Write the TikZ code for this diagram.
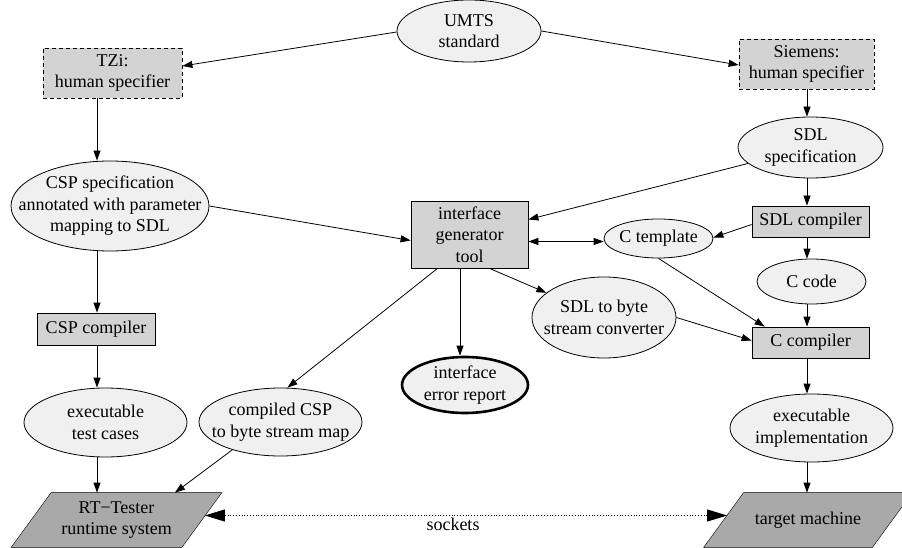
\documentclass[tikz,border=0pt]{standalone}
\usepackage{fontspec}
\setmainfont{Liberation Serif}
\usetikzlibrary{shapes.geometric,arrows.meta,calc,backgrounds}
\definecolor{ellfill}{HTML}{F0F0F0}
\definecolor{boxfill}{HTML}{D3D3D3}
\definecolor{parfill}{HTML}{A9A9A9}
\begin{document}
\begin{tikzpicture}[x=1pt,y=-1pt,
  font=\fontsize{18}{21.5}\selectfont,
  line width=0.8pt,
  >={Triangle[length=10pt,width=7pt]},
  ell/.style={ellipse, draw, fill=ellfill, inner sep=0pt},
  box/.style={rectangle, draw, fill=boxfill, inner sep=0pt, align=center},
  dbox/.style={box, dash pattern=on 4pt off 3pt},
  txt/.style={align=center, inner sep=0pt},
  parnode/.style={rectangle, inner sep=0pt, align=center, minimum height=54pt}]
\useasboundingbox (0,0) rectangle (902,548);

% nodes
\node[ell, minimum width=144pt, minimum height=62pt, label={[txt]center:UMTS\\standard}] (umts) at (469,31) {};
\node[dbox, minimum width=139pt, minimum height=50pt] (tzi) at (112.5,73) {TZi:\\human specifier};
\node[dbox, minimum width=135pt, minimum height=50pt] (sie) at (806.5,64) {Siemens:\\human specifier};
\node[ell, minimum width=145pt, minimum height=61pt, label={[txt]center:SDL\\specification}] (sdl) at (810.5,147.5) {};
\node[ell, minimum width=198pt, minimum height=90pt, label={[txt]center:CSP specification\\annotated with parameter\\mapping to SDL}] (csp) at (110,206) {};
\node[box, minimum width=117pt, minimum height=67pt] (igt) at (469.5,234.5) {interface\\generator\\tool};
\node[box, minimum width=117pt, minimum height=31pt] (sdlc) at (810.5,221.5) {SDL compiler};
\node[ell, minimum width=109pt, minimum height=39pt, label={[txt]center:C template}] (ctpl) at (658.5,238.5) {};
\node[ell, minimum width=109pt, minimum height=45pt, label={[txt]center:C code}] (ccode) at (811.5,281.5) {};
\node[ell, minimum width=144pt, minimum height=81pt, label={[txt]center:SDL to byte\\stream converter}] (sbc) at (604,317.5) {};
\node[box, minimum width=117pt, minimum height=31pt] (cc) at (810.5,342.5) {C compiler};
\node[box, minimum width=118pt, minimum height=32pt] (cspc) at (96,329) {CSP compiler};
\node[ell, line width=2.6pt, minimum width=126pt, minimum height=56pt, label={[txt]center:interface\\error report}] (ier) at (465,385) {};
\node[ell, minimum width=163pt, minimum height=69pt, label={[txt]center:executable\\test cases}] (tc) at (105.5,422.5) {};
\node[ell, minimum width=163pt, minimum height=68pt, label={[txt]center:compiled CSP\\to byte stream map}] (cpm) at (280.5,422) {};
\node[ell, minimum width=163pt, minimum height=68pt, label={[txt]center:executable\\implementation}] (ei) at (811.5,428) {};
\node[parnode, minimum width=170pt] (rt) at (116.5,520) {RT−Tester\\runtime system};
\node[parnode, minimum width=168pt] (tm) at (808,520) {target machine};
\node[txt, anchor=base] (sock) at (453,530) {sockets};

\begin{scope}[on background layer]
  \foreach \n in {rt,tm}
    \draw[fill=parfill] ($(\n.south west)+(-20,0)$) -- ($(\n.south east)+(-20,0)$)
      -- ($(\n.north east)+(20,0)$) -- ($(\n.north west)+(20,0)$) -- cycle;
\end{scope}

% column guides
\coordinate (colL) at (97,0);
\coordinate (colR) at (807,0);
\coordinate (colM) at (460,0);

% connectors
\draw[->] ($(umts.west)+(0,1)$) -- ($(tzi.east)+(0,-7)$);
\draw[->] (umts.east) -- ($(sie.west)+(0,1)$);

\draw[->] (tzi.south -| colL) -- (csp.north -| colL);
\draw[->] (csp.south -| colL) -- (cspc.north -| colL);
\draw[->] (cspc.south -| colL) -- (tc.north -| colL);
\draw[->] (tc.south -| colL) -- (rt.north -| colL);

\draw[->] (sie.south -| colR) -- (sdl.north -| colR);
\draw[->] (sdl.south -| colR) -- (sdlc.north -| colR);
\draw[->] (sdlc.south -| colR) -- (ccode.north -| colR);
\draw[->] (ccode.south -| colR) -- (cc.north -| colR);
\draw[->] (cc.south -| colR) -- (ei.north -| colR);
\draw[->] (ei.south -| colR) -- (tm.north -| colR);

\draw[->] (igt.south -| colM) -- (ier.north -| colM);

\draw[->] (csp.east) -- ($(igt.west)+(0,6)$);
\draw[->] (sdl) -- ($(igt.east)+(0,-15)$);
\coordinate (cw) at ($(ctpl.west)+(0,3)$);
\draw[<->] (igt.east |- cw) -- (cw);
\draw[->] ($(sdlc.west)+(0,3)$) -- ($(ctpl.east)+(0,-1)$);
\draw[->] ($(igt.south)+(20,0)$) -- (sbc);
\draw[->] (ctpl.south) -- ($(cc.north west)+(13,0)$);
\draw[->] (sbc.east) -- ($(cc.west)+(0,-2)$);
\draw[->] ($(igt.south)+(-32,0)$) -- ($(cpm.north)+(7,0)$);
\draw[->] (cpm.210) -- ($(rt.north)+(58.5,0)$);

\draw[dotted, {Triangle[length=20pt,width=12pt]}-{Triangle[length=20pt,width=12pt]}] ($(rt.east)+(3,-4.5)$) -- ($(tm.west)+(3.5,-4.5)$);
\end{tikzpicture}
\end{document}
